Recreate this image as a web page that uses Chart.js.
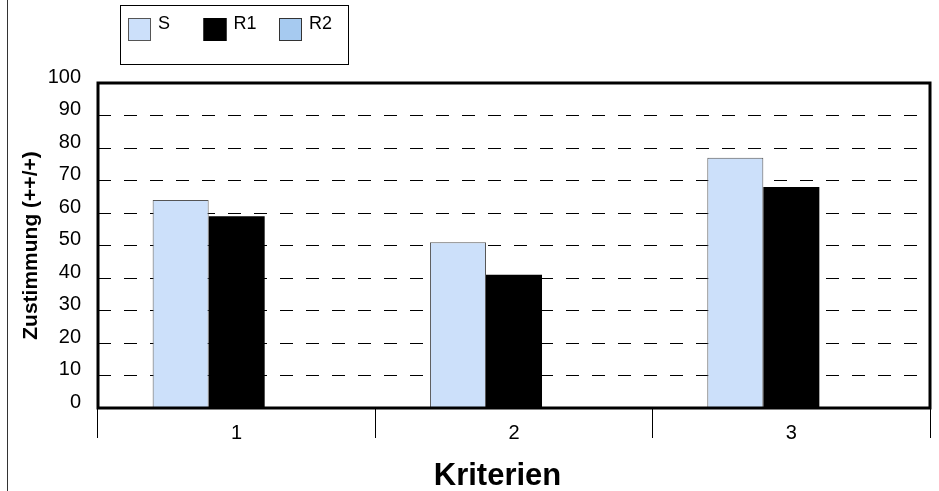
<!DOCTYPE html>
<html>
<head>
<meta charset="utf-8">
<script src="https://cdn.jsdelivr.net/npm/chart.js@4"></script>
<style>
  html, body { margin: 0; padding: 0; background: #fff; }
  #wrap { width: 939px; height: 491px; }
</style>
</head>
<body>
<div id="wrap"><canvas id="myChart" width="939" height="491"></canvas></div>
<script>
'use strict';
// ---------- Data ------------- //
let categories = ['1', '2', '3'];
let sValues = [64, 51, 77];
let r1Values = [59, 41, 68];
let r2Values = [null, null, null];
let yTicks = [0, 10, 20, 30, 40, 50, 60, 70, 80, 90, 100];

let fontName = '"Liberation Sans", Arial, sans-serif';

// ---------- Plugins ------------- //
// box around plot, legend box, left line, x title
let decorations = {
    id: 'decorations',
    afterDraw(chart){
        let ctx = chart.ctx;
        let area = chart.chartArea;
        ctx.save();
        // left vertical line
        ctx.strokeStyle = '#333';
        ctx.lineWidth = 1;
        ctx.beginPath();
        ctx.moveTo(7.5, 0);
        ctx.lineTo(7.5, 491);
        ctx.stroke();

        // plot border
        ctx.strokeStyle = '#000';
        ctx.lineWidth = 3;
        ctx.strokeRect(area.left, area.top, area.right - area.left, area.bottom - area.top);

        // legend
        ctx.lineWidth = 1;
        ctx.strokeStyle = '#000';
        ctx.strokeRect(120.5, 5.5, 228, 59);
        let itemX = 128;
        chart.data.datasets.forEach(function(ds){
            ctx.fillStyle = ds.backgroundColor;
            ctx.fillRect(itemX, 18, 23, 23);
            ctx.strokeStyle = ds.borderColor;
            ctx.strokeRect(itemX + 0.5, 18.5, 22, 22);
            ctx.fillStyle = '#000';
            ctx.font = '18px ' + fontName;
            ctx.textAlign = 'left';
            ctx.textBaseline = 'alphabetic';
            ctx.fillText(ds.label, itemX + 30, 29);
            itemX += 75.5;
        });

        // x axis title
        ctx.font = 'bold 31px ' + fontName;
        ctx.textAlign = 'center';
        ctx.fillText('Kriterien', 497.5, 485);
        ctx.restore();
    }
};

// ---------- Chart ------------- //
let ctx = document.getElementById('myChart').getContext('2d');
let myChart = new Chart(ctx, {
    type: 'bar',
    data: {
        labels: categories,
        datasets: [{
            label: 'S',
            data: sValues,
            backgroundColor: '#CCE0FA',
            borderColor: '#555',
            borderWidth: 1
        },
        {
            label: 'R1',
            data: r1Values,
            backgroundColor: '#000',
            borderColor: '#000',
            borderWidth: 0
        },
        {
            label: 'R2',
            data: r2Values,
            backgroundColor: '#A6CAF0',
            borderColor: '#333',
            borderWidth: 1
        }]
    },
    options: {
        responsive: false,
        animation: false,
        layout: { padding: { top: 83, left: 0, right: 9, bottom: 0 } },
        datasets: {
            bar: { categoryPercentage: 0.606, barPercentage: 1 }
        },
        plugins: {
            legend: { display: false },
            tooltip: { enabled: false }
        },
        scales: {
            x: {
                grid: {
                    offset: true,
                    drawOnChartArea: false,
                    drawTicks: true,
                    tickLength: 30,
                    color: '#000',
                    lineWidth: 1
                },
                border: { display: false },
                ticks: {
                    color: '#000',
                    padding: -17,
                    font: { family: fontName, size: 20 }
                },
                afterFit(scale){ scale.height = 83; }
            },
            y: {
                min: 0,
                max: 100,
                afterBuildTicks(scale){
                    scale.ticks = yTicks.map(function(v){ return { value: v }; });
                },
                grid: {
                    drawTicks: false,
                    color(c){
                        if (c.tick && (c.tick.value === 0 || c.tick.value === 100)) return 'rgba(0,0,0,0)';
                        return '#000';
                    },
                    lineWidth: 1
                },
                border: { display: false, dash: [13, 13] },
                ticks: {
                    color: '#000',
                    padding: 17,
                    labelOffset: -6,
                    font: { family: fontName, size: 20 }
                },
                title: {
                    display: true,
                    text: 'Zustimmung (++/+)',
                    color: '#000',
                    padding: { top: 19, bottom: 0 },
                    font: { family: fontName, size: 21, weight: 'bold' }
                },
                afterFit(scale){ scale.width = 98; }
            }
        }
    },
    plugins: [decorations]
});
</script>
</body>
</html>
